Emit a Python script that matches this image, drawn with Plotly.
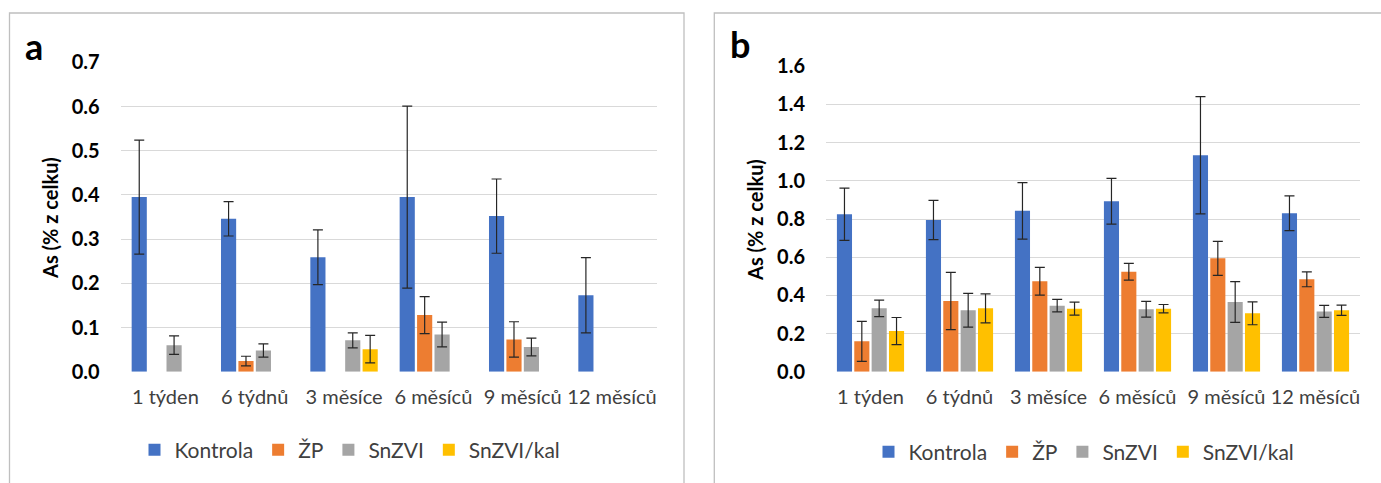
import plotly.graph_objects as go

W, H = 1381, 483

categories = ["1 týden", "6 týdnů", "3 měsíce", "6 měsíců", "9 měsíců", "12 měsíců"]
series_names = ["Kontrola", "ŽP", "SnZVI", "SnZVI/kal"]
colors = ["#4472C4", "#ED7D31", "#A5A5A5", "#FFC000"]

# Panel a values and errors
a_kontrola = [0.395, 0.346, 0.259, 0.395, 0.352, 0.173]
a_kontrola_err = [0.129, 0.039, 0.062, 0.206, 0.084, 0.085]
a_zp = [None, 0.024, None, 0.128, 0.073, None]
a_zp_err = [None, 0.011, None, 0.042, 0.040, None]
a_snzvi = [0.060, 0.048, 0.071, 0.084, 0.056, None]
a_snzvi_err = [0.021, 0.015, 0.017, 0.028, 0.020, None]
a_snzvikal = [None, None, 0.051, None, None, None]
a_snzvikal_err = [None, None, 0.031, None, None, None]

# Panel b values and errors
b_kontrola = [0.825, 0.795, 0.843, 0.893, 1.134, 0.830]
b_kontrola_err = [0.137, 0.103, 0.148, 0.120, 0.307, 0.091]
b_zp = [0.159, 0.370, 0.474, 0.524, 0.594, 0.484]
b_zp_err = [0.105, 0.150, 0.073, 0.044, 0.089, 0.039]
b_snzvi = [0.332, 0.322, 0.346, 0.327, 0.365, 0.316]
b_snzvi_err = [0.043, 0.088, 0.033, 0.041, 0.107, 0.031]
b_snzvikal = [0.213, 0.332, 0.330, 0.330, 0.306, 0.322]
b_snzvikal_err = [0.071, 0.076, 0.034, 0.022, 0.060, 0.027]

panel_a = [(a_kontrola, a_kontrola_err), (a_zp, a_zp_err), (a_snzvi, a_snzvi_err), (a_snzvikal, a_snzvikal_err)]
panel_b = [(b_kontrola, b_kontrola_err), (b_zp, b_zp_err), (b_snzvi, b_snzvi_err), (b_snzvikal, b_snzvikal_err)]

FONT = "Lato, 'Open Sans', sans-serif"

fig = go.Figure()

def add_panel(data, xa, ya, legend):
    for name, color, (vals, errs) in zip(series_names, colors, data):
        fig.add_trace(go.Bar(
            x=categories, y=vals, name=name, marker_color=color,
            marker_line_width=0,
            error_y=dict(type="data", array=errs, visible=True,
                         color="#262626", thickness=1.2, width=5),
            xaxis=xa, yaxis=ya, legend=legend,
        ))

add_panel(panel_a, "x", "y", "legend")
add_panel(panel_b, "x2", "y2", "legend2")

def px_x(p):
    return p / W

def px_y(p):
    return 1 - p / H

axis_common_y = dict(
    showgrid=True, gridcolor="#D9D9D9", gridwidth=1.3, zeroline=False,
    showline=False, ticks="", tickformat=".1f", automargin=False,
    tickfont=dict(family=FONT, size=20, color="#000000", weight="bold"),
    ticklabelstandoff=20, fixedrange=True,
)
axis_common_x = dict(
    showgrid=False, zeroline=False, showline=False, ticks="", automargin=False,
    tickfont=dict(family=FONT, size=20, color="#404040"),
    ticklabelstandoff=11, fixedrange=True,
)

fig.update_layout(
    width=W, height=H,
    margin=dict(l=0, r=0, t=0, b=0, pad=0, autoexpand=False),
    paper_bgcolor="white", plot_bgcolor="white",
    barmode="group", bargap=0.22, bargroupgap=0.13,
    font=dict(family=FONT),
    xaxis=dict(domain=[px_x(120.7), px_x(656.7)], anchor="y", **axis_common_x),
    yaxis=dict(domain=[px_y(371.7), px_y(62.3)], range=[0, 0.7], dtick=0.1,
               anchor="x", **axis_common_y),
    xaxis2=dict(domain=[px_x(826), px_x(1360)], anchor="y2", **axis_common_x),
    yaxis2=dict(domain=[px_y(371.7), px_y(66.3)], range=[0, 1.6], dtick=0.2,
                anchor="x2", **axis_common_y),
    legend=dict(orientation="h", x=px_x(350), xanchor="center", y=px_y(450),
                yanchor="middle", font=dict(family=FONT, size=21, color="#404040"),
                bgcolor="rgba(0,0,0,0)", itemclick=False, itemdoubleclick=False),
    legend2=dict(orientation="h", x=px_x(1084), xanchor="center", y=px_y(452),
                 yanchor="middle", font=dict(family=FONT, size=21, color="#404040"),
                 bgcolor="rgba(0,0,0,0)", itemclick=False, itemdoubleclick=False),
    showlegend=True,
)

# panel borders
fig.add_shape(type="rect", xref="paper", yref="paper",
              x0=px_x(9.5), x1=px_x(684), y0=px_y(495), y1=px_y(13),
              line=dict(color="#BFBFBF", width=1.3), fillcolor="rgba(0,0,0,0)", layer="below")
fig.add_shape(type="rect", xref="paper", yref="paper",
              x0=px_x(714.3), x1=px_x(1395), y0=px_y(495), y1=px_y(13),
              line=dict(color="#BFBFBF", width=1.3), fillcolor="rgba(0,0,0,0)", layer="below")

# panel letters
fig.add_annotation(text="<b>a</b>", xref="paper", yref="paper", x=px_x(33.5), y=px_y(46),
                   showarrow=False, font=dict(family=FONT, size=36, color="#000000"),
                   xanchor="center", yanchor="middle")
fig.add_annotation(text="<b>b</b>", xref="paper", yref="paper", x=px_x(739.5), y=px_y(44),
                   showarrow=False, font=dict(family=FONT, size=36, color="#000000"),
                   xanchor="center", yanchor="middle")

# y-axis titles
for xc, yc in [(50, 218), (755, 220)]:
    fig.add_annotation(text="<b>As (% z celku)</b>", xref="paper", yref="paper",
                       x=px_x(xc), y=px_y(yc), showarrow=False, textangle=-90,
                       font=dict(family=FONT, size=20, color="#000000"),
                       xanchor="center", yanchor="middle")

fig.write_html("out.html")
